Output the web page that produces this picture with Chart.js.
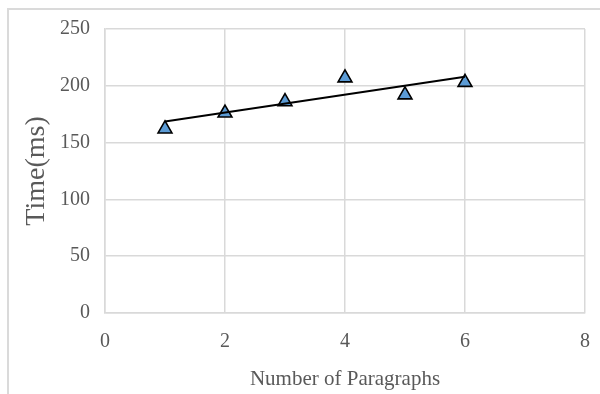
<!DOCTYPE html>
<html>
<head>
<meta charset="utf-8">
<script src="https://cdn.jsdelivr.net/npm/chart.js@4"></script>
<style>
  html, body { margin: 0; padding: 0; background: #ffffff; overflow: hidden; }
  #frame { position: absolute; left: 7px; top: 8px; width: 700px; height: 500px;
           border-left: 2px solid #dadada; border-top: 2px solid #dadada; }
  #wrap { position: absolute; left: 0; top: 0; width: 600px; height: 394px; }
</style>
</head>
<body>
<div id="frame"></div>
<div id="wrap"><canvas id="c" width="600" height="394"></canvas></div>
<script>
// Data
const paragraphs = [1, 2, 3, 4, 5, 6];
const timeMs = [162, 176, 186, 207, 192, 203];
const trendX = [1, 6];
const trendY = [168.5, 208];
const xTicks = [0, 2, 4, 6, 8];
const yTicks = [0, 50, 100, 150, 200, 250];
const xTitle = 'Number of Paragraphs';
const yTitle = 'Time(ms)';

const FONT = "'Liberation Serif', 'Times New Roman', serif";
const TXT = '#595959';
const GRID = '#d9d9d9';

const points = paragraphs.map((x, i) => ({ x: x, y: timeMs[i] }));
const trend = trendX.map((x, i) => ({ x: x, y: trendY[i] }));

new Chart(document.getElementById('c'), {
  type: 'scatter',
  data: {
    datasets: [
      {
        type: 'line',
        label: 'Trend',
        data: trend,
        borderColor: '#000000',
        borderWidth: 2,
        pointRadius: 0,
        fill: false,
        tension: 0
      },
      {
        label: 'Time',
        data: points,
        pointStyle: 'triangle',
        pointRadius: 8,
        pointBackgroundColor: '#5b9bd5',
        pointBorderColor: '#000000',
        pointBorderWidth: 1.6,
        showLine: false
      }
    ]
  },
  options: {
    responsive: false,
    animation: false,
    layout: { padding: { left: 0, right: 15, top: 29, bottom: 0 } },
    plugins: { legend: { display: false }, tooltip: { enabled: false } },
    scales: {
      x: {
        type: 'linear',
        min: xTicks[0],
        max: xTicks[xTicks.length - 1],
        afterBuildTicks: (s) => { s.ticks = xTicks.map(v => ({ value: v })); },
        afterFit: (s) => { s.height = 81; s.paddingLeft = 0; s.paddingRight = 0; },
        grid: { color: GRID, lineWidth: 1.5, drawTicks: false },
        border: { color: GRID, width: 1.5 },
        ticks: { color: TXT, font: { family: FONT, size: 20 }, padding: 17, maxRotation: 0 },
        title: { display: true, text: xTitle, color: TXT,
                 font: { family: FONT, size: 21 }, padding: { top: 0, bottom: 2 } }
      },
      y: {
        type: 'linear',
        min: yTicks[0],
        max: yTicks[yTicks.length - 1],
        afterBuildTicks: (s) => { s.ticks = yTicks.map(v => ({ value: v })); },
        afterFit: (s) => { s.width = 105; s.paddingTop = 0; s.paddingBottom = 0; },
        grid: { color: GRID, lineWidth: 1.5, drawTicks: false },
        border: { color: GRID, width: 1.5 },
        ticks: { color: TXT, font: { family: FONT, size: 20 }, padding: 15 },
        title: { display: true, text: yTitle, color: TXT,
                 font: { family: FONT, size: 28 }, padding: { top: 20, bottom: 0 } }
      }
    }
  }
});
</script>
</body>
</html>
